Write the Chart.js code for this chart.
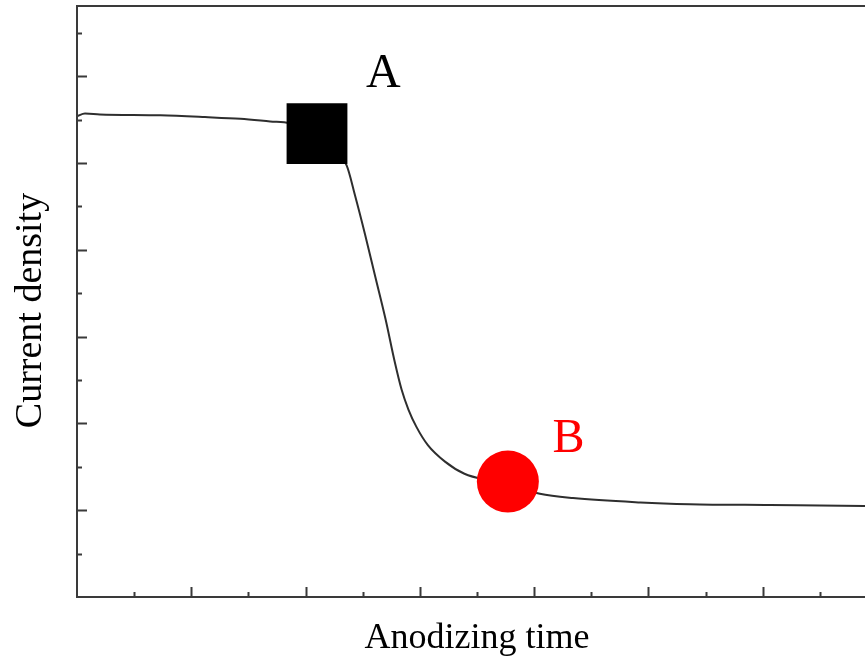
<!DOCTYPE html>
<html>
<head>
<meta charset="utf-8">
<script src="https://cdn.jsdelivr.net/npm/chart.js@4/dist/chart.umd.min.js"></script>
<style>
  html, body { margin: 0; padding: 0; background: #fff; overflow: hidden; width: 865px; height: 664px; }
  canvas { display: block; }
</style>
</head>
<body>
<canvas id="c" width="885" height="664"></canvas>
<script>
// Anodizing time (arbitrary units) and current density (arbitrary units)
const timeValues = [0.00, 0.07, 0.20, 0.73, 1.12, 1.43, 1.69, 1.86, 2.10, 2.36, 2.43, 2.52, 2.61, 2.70, 2.78, 2.84, 2.90, 2.97, 3.07, 3.22, 3.39, 3.61, 3.77, 4.05, 4.34, 4.93, 5.36, 6.06, 6.89, 7.00];
const currentValues = [5.54, 5.57, 5.56, 5.55, 5.53, 5.51, 5.48, 5.46, 5.34, 4.97, 4.64, 4.18, 3.69, 3.20, 2.71, 2.39, 2.16, 1.96, 1.75, 1.56, 1.42, 1.34, 1.30, 1.19, 1.14, 1.09, 1.07, 1.06, 1.05, 1.05];
const markerA = { label: "A", x: 2.10, y: 5.34, labelX: 2.68, labelY: 6.02 };
const markerB = { label: "B", x: 3.77, y: 1.33, labelX: 4.30, labelY: 1.82 };
const xTicks = [0.5, 1, 1.5, 2, 2.5, 3, 3.5, 4, 4.5, 5, 5.5, 6, 6.5, 7];
const yTicks = [0.5, 1, 1.5, 2, 2.5, 3, 3.5, 4, 4.5, 5, 5.5, 6, 6.5];
const xRange = [0, 7];
const yRange = [0, 6.81];
const xTitle = 'Anodizing time';
const yTitle = 'Current density';

const curve = timeValues.map((t, i) => ({ x: t, y: currentValues[i] }));
const SERIF = '"Liberation Serif", "Times New Roman", serif';

const framePlugin = {
  id: 'frame',
  afterDatasetsDraw(chart) {
    const { ctx, chartArea: a, scales: { x, y } } = chart;
    ctx.save();
    ctx.strokeStyle = '#3a3a3a';
    ctx.lineWidth = 2;
    ctx.strokeRect(a.left, a.top, a.right - a.left, a.bottom - a.top);
    ctx.beginPath();
    xTicks.forEach(v => {
      const px = Math.round(x.getPixelForValue(v)) + 0.5;
      const len = Number.isInteger(v) ? 10 : 5;
      ctx.moveTo(px, a.bottom);
      ctx.lineTo(px, a.bottom - len);
    });
    yTicks.forEach(v => {
      const py = Math.round(y.getPixelForValue(v)) + 0.5;
      const len = Number.isInteger(v) ? 10 : 5;
      ctx.moveTo(a.left, py);
      ctx.lineTo(a.left + len, py);
    });
    ctx.stroke();
    // point labels
    ctx.font = '48px ' + SERIF;
    ctx.textAlign = 'center';
    ctx.textBaseline = 'middle';
    ctx.fillStyle = '#000';
    ctx.fillText(markerA.label, x.getPixelForValue(markerA.labelX), y.getPixelForValue(markerA.labelY));
    ctx.fillStyle = '#ff0000';
    ctx.fillText(markerB.label, x.getPixelForValue(markerB.labelX), y.getPixelForValue(markerB.labelY));
    // y axis title
    ctx.fillStyle = '#000';
    ctx.font = '38px ' + SERIF;
    ctx.translate(y.left + 31, (a.top + a.bottom) / 2 + 9);
    ctx.rotate(-Math.PI / 2);
    ctx.fillText(yTitle, 0, 0);
    ctx.restore();
  }
};

new Chart(document.getElementById('c'), {
  type: 'line',
  data: {
    datasets: [
      {
        type: 'scatter',
        data: [{ x: markerA.x, y: markerA.y }],
        pointStyle: 'rect',
        pointRadius: 43,
        backgroundColor: '#000',
        borderColor: '#000',
        borderWidth: 0,
        order: 0
      },
      {
        type: 'scatter',
        data: [{ x: markerB.x, y: markerB.y }],
        pointStyle: 'circle',
        pointRadius: 31,
        backgroundColor: '#ff0000',
        borderColor: '#ff0000',
        borderWidth: 0,
        order: 1
      },
      {
        data: curve,
        borderColor: '#2e2e2e',
        borderWidth: 2,
        pointRadius: 0,
        fill: false,
        cubicInterpolationMode: 'monotone',
        order: 2
      }
    ]
  },
  options: {
    responsive: false,
    animation: false,
    layout: { autoPadding: false, padding: { top: 6, right: 8, left: 0, bottom: 0 } },
    plugins: { legend: { display: false }, tooltip: { enabled: false } },
    scales: {
      x: {
        type: 'linear', min: xRange[0], max: xRange[1],
        grid: { display: false, drawTicks: false },
        border: { display: false },
        ticks: { display: false },
        afterFit(s) { s.height = 67; },
        title: {
          display: true, text: xTitle, color: '#000',
          font: { family: SERIF, size: 36 },
          padding: { top: 0, bottom: 4 }
        }
      },
      y: {
        type: 'linear', min: yRange[0], max: yRange[1],
        grid: { display: false, drawTicks: false },
        border: { display: false },
        ticks: { display: false },
        afterFit(s) { s.width = 77; },
        title: { display: false }
      }
    }
  },
  plugins: [framePlugin]
});
</script>
</body>
</html>
